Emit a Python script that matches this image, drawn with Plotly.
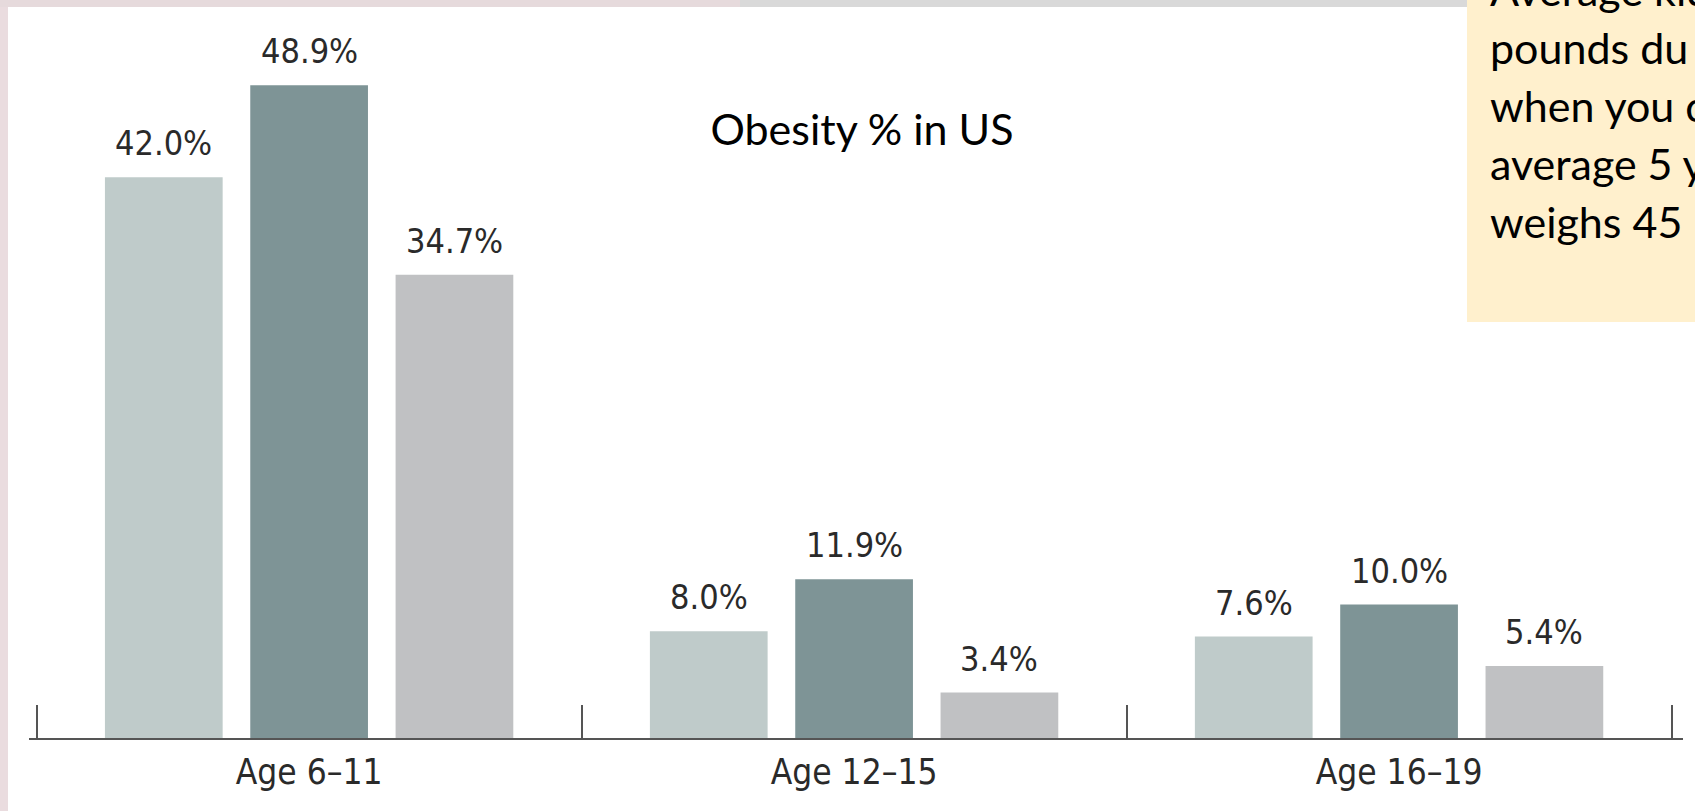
import plotly.graph_objects as go

# ---- data ----
categories = ["Age 6–11", "Age 12–15", "Age 16–19"]
series_names = ["Series A", "Series B", "Series C"]
series_a = [42.0, 8.0, 7.6]
series_b = [48.9, 11.9, 10.0]
series_c = [34.7, 3.4, 5.4]
title_text = "Obesity % in US"
note_lines = ["Average kid", "pounds du", "when you c", "average 5 y", "weighs 45"]

# ---- style / layout ----
W, H = 1695, 811
ML, MR, MT, MB = 29, 12, 70, 73
PW, PH = W - ML - MR, H - MT - MB
colors = ["#bfcbca", "#7e9496", "#c0c1c3"]
BARGAP, GROUPGAP = 0.2, 0.19
narrow = "Liberation Sans Narrow, DejaVu Sans Condensed, Arial Narrow, sans-serif"
calibri_like = "Lato, Carlito, Calibri, sans-serif"


def px_x(px):
    return (px - ML) / PW


def px_y(py):
    return (H - MB - py) / PH


xs = list(range(len(categories)))
all_series = [series_a, series_b, series_c]

fig = go.Figure()
for name, vals, col in zip(series_names, all_series, colors):
    fig.add_trace(go.Bar(x=xs, y=vals, name=name, marker=dict(color=col, line=dict(width=0)),
                         hoverinfo="skip"))

slot = (1 - BARGAP) / len(all_series)
annotations = []
for j, vals in enumerate(all_series):
    off = (j - (len(all_series) - 1) / 2) * slot
    for i, v in enumerate(vals):
        annotations.append(dict(x=xs[i] + off, y=v, xref="x", yref="y", text=f"{v:.1f}%",
                                showarrow=False, yanchor="bottom", xanchor="center", yshift=12,
                                font=dict(family=narrow, size=34, color="#2a2a2a")))

# note box lines
baselines = [7, 65, 123, 181, 239]
for line, bl in zip(note_lines, baselines):
    annotations.append(dict(x=px_x(1488), y=px_y(bl + 10), xref="paper", yref="paper",
                            text=line, showarrow=False, xanchor="left", yanchor="bottom",
                            font=dict(family=calibri_like, size=43, color="#000000")))

shapes = [
    # left textured strip
    dict(type="rect", xref="paper", yref="paper", x0=px_x(-5), x1=px_x(8), y0=px_y(H + 5), y1=px_y(-5),
         fillcolor="#eadcdf", line=dict(width=0), layer="below"),
    # top band (pinkish then grey)
    dict(type="rect", xref="paper", yref="paper", x0=px_x(-5), x1=px_x(740), y0=px_y(7), y1=px_y(-5),
         fillcolor="#e6dadc", line=dict(width=0), layer="below"),
    dict(type="rect", xref="paper", yref="paper", x0=px_x(740), x1=px_x(1467), y0=px_y(7), y1=px_y(-5),
         fillcolor="#d9d9d9", line=dict(width=0), layer="below"),
    # note box
    dict(type="rect", xref="paper", yref="paper", x0=px_x(1467), x1=px_x(W + 5), y0=px_y(322), y1=px_y(-5),
         fillcolor="#fff0cd", line=dict(width=0), layer="above"),
]

fig.update_layout(
    width=W, height=H,
    margin=dict(l=ML, r=MR, t=MT, b=MB, autoexpand=False),
    paper_bgcolor="white", plot_bgcolor="white",
    barmode="group", bargap=BARGAP, bargroupgap=GROUPGAP,
    showlegend=False,
    title=dict(text=title_text, x=px_x(862), xref="paper", xanchor="center",
               y=1 - 130 / H, yref="container", yanchor="middle",
               font=dict(family=calibri_like, size=43, color="#000000")),
    xaxis=dict(range=[-0.514, 2.521], tickvals=xs, ticktext=categories, ticks="",
               showline=True, linecolor="#555555", linewidth=2, showgrid=False, zeroline=False,
               automargin=False, tickfont=dict(family=narrow, size=35, color="#2a2a2a"),
               ticklabelstandoff=2,
               minor=dict(tickvals=[-0.5, 0.5, 1.5, 2.5], ticks="inside", ticklen=33,
                          tickwidth=2, tickcolor="#555555", showgrid=False)),
    yaxis=dict(range=[0, 50.04], visible=False, showgrid=False, zeroline=False, automargin=False),
    annotations=annotations,
    shapes=shapes,
)

fig.write_html("out.html")
